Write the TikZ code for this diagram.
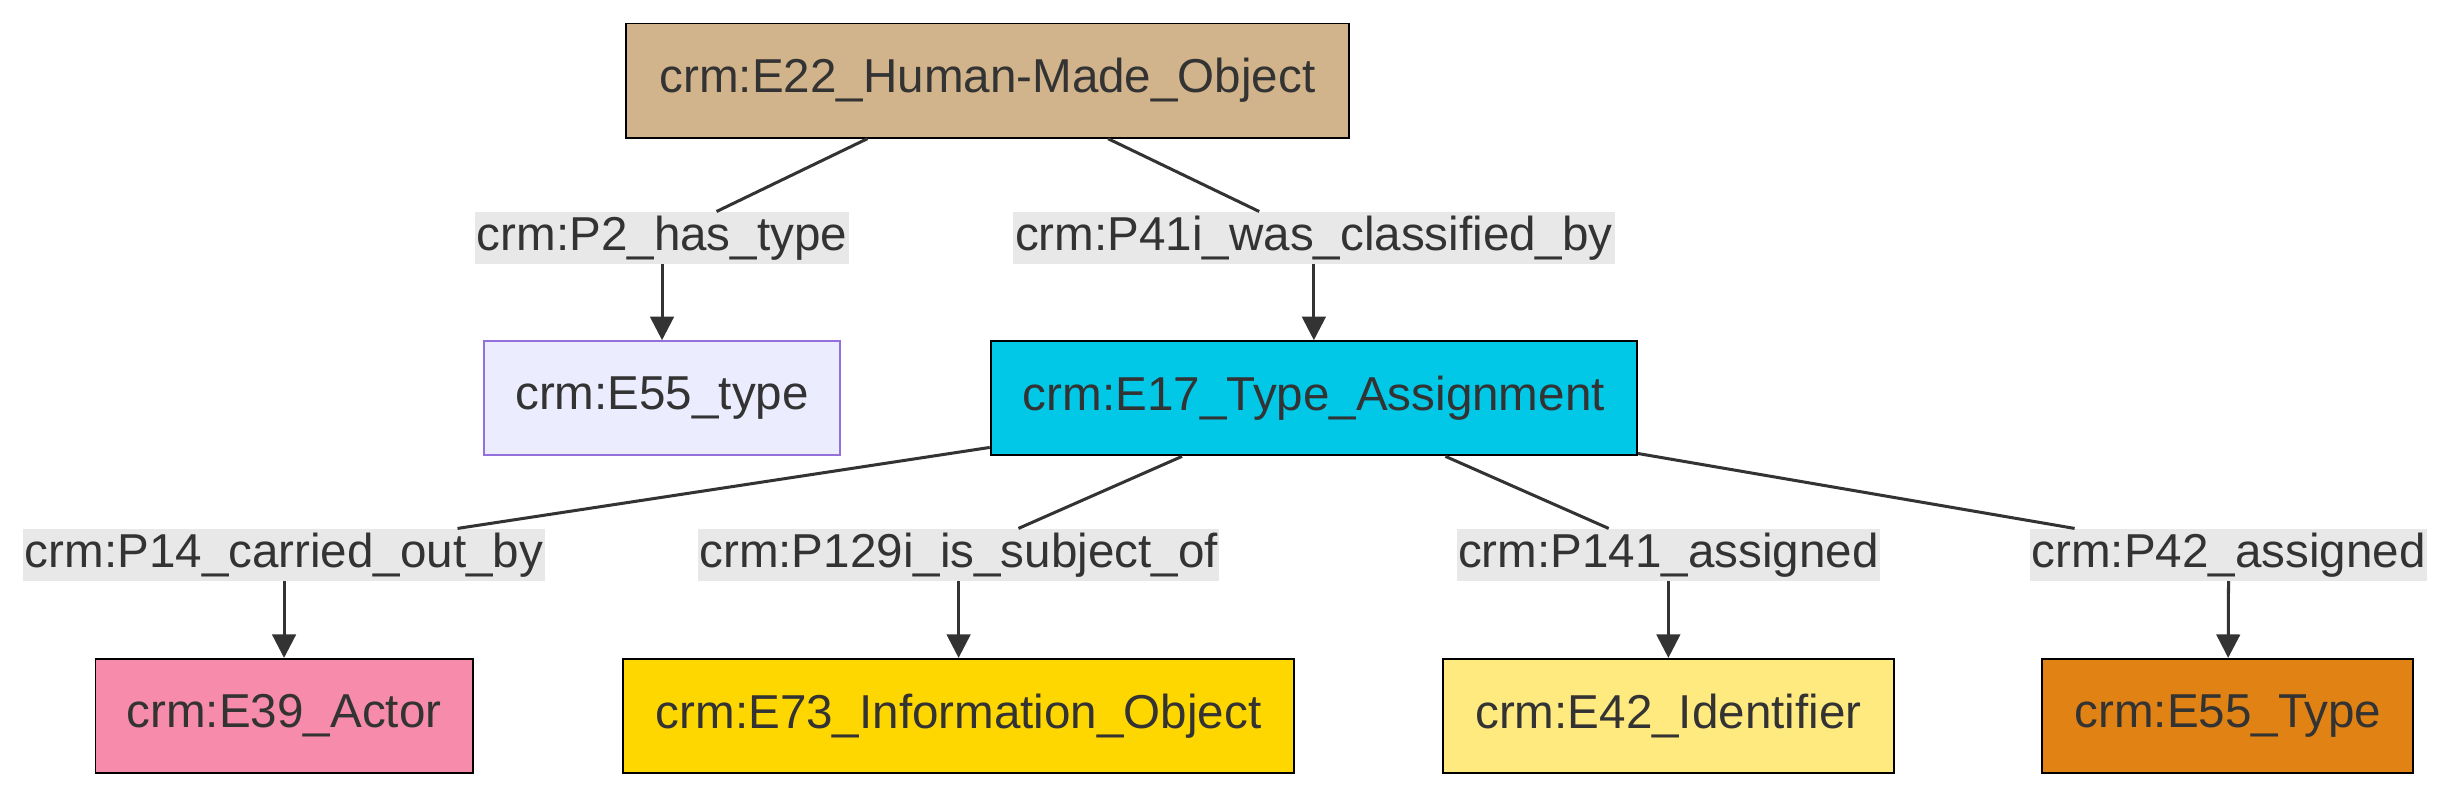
\documentclass[tikz,border=0pt]{standalone}
\usepackage{fontspec}
\setmainfont{Liberation Sans}
\usetikzlibrary{arrows.meta}
\definecolor{ink}{HTML}{333333}
\definecolor{lblbg}{HTML}{E8E8E8}
\definecolor{tan}{HTML}{D2B48C}
\definecolor{lavender}{HTML}{ECECFF}
\definecolor{purpleline}{HTML}{9370DB}
\definecolor{cyan}{HTML}{00C8E6}
\definecolor{pink}{HTML}{F68BAB}
\definecolor{gold}{HTML}{FFD700}
\definecolor{paleyellow}{HTML}{FFEA80}
\definecolor{orange}{HTML}{E08214}

\begin{document}
\begin{tikzpicture}[
    cls/.style={draw=black, line width=0.7pt, minimum height=1.46cm, inner sep=0pt, text=ink, font=\fontsize{17.3}{20}\selectfont},
    prop/.style={fill=lblbg, minimum height=0.66cm, inner sep=0pt, text=ink, font=\fontsize{17.3}{20}\selectfont},
    edge/.style={draw=ink, line width=1.1pt},
    arr/.style={edge, -{Triangle[length=0.3cm, width=0.3cm]}}
  ]
    \useasboundingbox (0,0) rectangle (31.36,-10.2);

    % top object
    \node[cls, fill=tan, minimum width=9.24cm] (e22) at (12.62,-1.03) {crm:E22\_Human-Made\_Object};

    % first level
    \node[prop, minimum width=4.78cm] (p2) at (8.46,-3.04) {crm:P2\_has\_type};
    \node[prop, minimum width=7.7cm] (p41i) at (16.79,-3.04) {crm:P41i\_was\_classified\_by};
    \node[cls, fill=lavender, draw=purpleline, minimum width=4.56cm] (e55t) at (8.46,-5.09) {crm:E55\_type};
    \node[cls, fill=cyan, minimum width=8.26cm] (e17) at (16.79,-5.09) {crm:E17\_Type\_Assignment};

    % second level
    \node[prop, minimum width=6.66cm] (p14) at (3.63,-7.09) {crm:P14\_carried\_out\_by};
    \node[prop, minimum width=6.66cm] (p129i) at (12.25,-7.09) {crm:P129i\_is\_subject\_of};
    \node[prop, minimum width=5.4cm] (p141) at (21.32,-7.09) {crm:P141\_assigned};
    \node[prop, minimum width=5.08cm] (p42) at (28.48,-7.09) {crm:P42\_assigned};
    \node[cls, fill=pink, minimum width=4.82cm] (e39) at (3.63,-9.15) {crm:E39\_Actor};
    \node[cls, fill=gold, minimum width=8.58cm] (e73) at (12.25,-9.15) {crm:E73\_Information\_Object};
    \node[cls, fill=paleyellow, minimum width=5.76cm] (e42) at (21.32,-9.15) {crm:E42\_Identifier};
    \node[cls, fill=orange, minimum width=4.74cm] (e55) at (28.47,-9.15) {crm:E55\_Type};

    % connectors
    \foreach \src/\lbl/\dst in {e22/p2/e55t, e22/p41i/e17, e17/p14/e39, e17/p129i/e73, e17/p141/e42, e17/p42/e55} {
      \draw[edge] (\src) -- (\lbl);
      \draw[arr] (\lbl) -- (\dst);
    }
\end{tikzpicture}
\end{document}
